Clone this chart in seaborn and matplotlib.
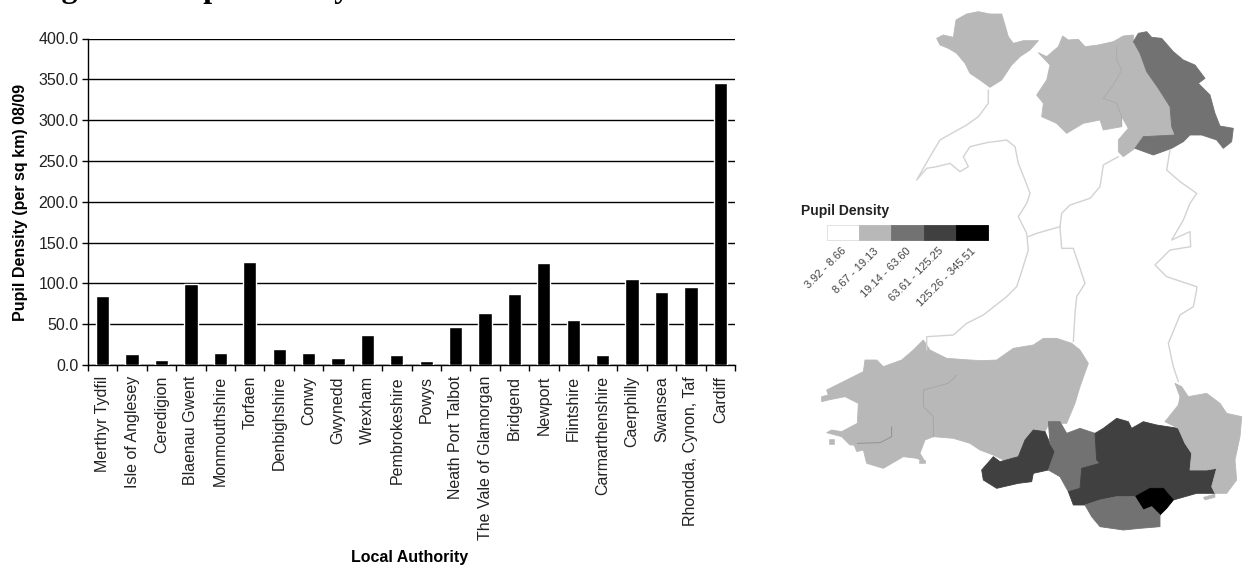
import matplotlib
matplotlib.use("Agg")
import matplotlib.pyplot as plt
import seaborn as sns
import pandas as pd
from matplotlib.patches import Rectangle

authorities = ["Merthyr Tydfil", "Isle of Anglesey", "Ceredigion", "Blaenau Gwent", "Monmouthshire",
               "Torfaen", "Denbighshire", "Conwy", "Gwynedd", "Wrexham", "Pembrokeshire", "Powys",
               "Neath Port Talbot", "The Vale of Glamorgan", "Bridgend", "Newport", "Flintshire",
               "Carmarthenshire", "Caerphilly", "Swansea", "Rhondda, Cynon, Taf", "Cardiff"]
density = [85, 13, 6, 99, 15, 126, 20, 15, 8, 37, 12, 4.5, 47, 64, 87, 125, 55, 12, 105, 90, 96, 345.5]
y_ticks = [0, 50, 100, 150, 200, 250, 300, 350, 400]

legend_labels = ["3.92 - 8.66", "8.67 - 19.13", "19.14 - 63.60", "63.61 - 125.25", "125.26 - 345.51"]
legend_colors = ["#ffffff", "#b8b8b8", "#727272", "#404040", "#000000"]

# Map outlines (map units: 3 per reference pixel)
S = 840
def south(pts):
    return [(x, y + S) for x, y in pts]

anglesey = [(500,115),(520,105),(550,112),(558,60),(590,42),(625,35),(660,42),(695,42),(705,75),(715,110),(730,130),(760,122),(805,122),(780,150),(750,170),(725,195),(695,240),(660,262),(630,240),(600,220),(585,190),(560,160),(535,145),(510,135)]
conwy = [(805,158),(830,170),(865,140),(878,108),(895,120),(925,118),(945,140),(985,135),(1030,125),(1040,140),(1040,180),(1055,210),(1030,255),(1000,295),(1040,310),(1055,350),(1055,380),(1000,390),(990,360),(940,370),(890,400),(860,370),(815,350),(820,310),(800,285),(830,240),(840,195)]
denbighshire = [(1030,125),(1060,108),(1090,105),(1090,130),(1110,160),(1130,215),(1165,265),(1200,320),(1205,380),(1215,405),(1120,410),(1095,445),(1060,470),(1045,455),(1045,420),(1075,385),(1055,350),(1040,310),(1000,295),(1030,255),(1055,210),(1040,180),(1040,140)]
flintshire = [(1090,125),(1105,100),(1130,95),(1145,112),(1175,115),(1210,155),(1240,180),(1275,195),(1305,235),(1285,250),(1320,285),(1335,340),(1350,378),(1390,385),(1385,425),(1360,445),(1340,420),(1295,405),(1260,405),(1240,425),(1215,405),(1205,380),(1200,320),(1165,265),(1130,215),(1110,160)]
wrexham = [(1120,410),(1215,405),(1240,425),(1205,445),(1150,465),(1095,445)]
pembrokeshire = south([(170,330),(230,300),(280,275),(285,240),(320,240),(340,260),(395,240),(430,210),(460,180),(480,210),(530,235),(560,285),(535,310),(460,330),(460,380),(490,410),(490,470),(465,480),(450,520),(465,545),(440,535),(400,530),(340,565),(290,550),(280,510),(250,495),(240,495),(215,470),(170,458),(185,450),(215,455),(262,430),(265,370),(225,350),(175,360),(155,365),(155,350),(175,345)])
carmarthenshire = south([(530,235),(600,240),(640,242),(680,240),(730,205),(790,195),(820,175),(860,175),(905,190),(930,210),(955,250),(930,320),(915,370),(890,430),(880,430),(840,425),(825,455),(790,450),(765,480),(745,530),(700,540),(670,525),(630,510),(600,490),(550,475),(490,470),(490,410),(460,380),(460,330),(535,310),(560,285)])
swansea = south([(790,450),(825,455),(840,490),(855,515),(835,570),(790,580),(785,605),(745,610),(680,625),(640,600),(635,570),(670,530),(690,545),(745,530),(765,480)])
neath = south([(835,425),(870,425),(890,460),(930,445),(975,460),(980,540),(990,550),(935,565),(930,625),(895,635),(870,590),(835,570),(855,515),(840,490)])
valleys = south([(975,460),(1000,445),(1040,415),(1075,425),(1085,445),(1120,425),(1160,435),(1225,445),(1245,490),(1265,520),(1260,570),(1310,570),(1340,565),(1325,620),(1335,640),(1280,640),(1210,660),(1180,625),(1140,625),(1095,650),(1040,650),(990,660),(945,675),(910,675),(895,635),(930,625),(935,565),(990,550),(980,540)])
cardiff = south([(1095,650),(1140,625),(1180,625),(1210,660),(1190,685),(1170,705),(1145,680),(1120,690)])
vale = south([(945,675),(990,660),(1040,650),(1095,650),(1120,690),(1145,680),(1170,705),(1170,740),(1110,745),(1060,750),(990,740),(965,710)])
monmouthshire = south([(1215,310),(1235,320),(1255,350),(1310,340),(1350,370),(1370,400),(1415,410),(1410,470),(1395,540),(1400,600),(1370,640),(1335,640),(1325,620),(1340,565),(1310,570),(1260,570),(1265,520),(1245,490),(1225,445),(1185,425),(1225,375),(1230,350)])
islands = [south([(178,478),(192,478),(192,492),(178,492)]),
           south([(252,495),(275,492),(282,510),(260,515)]),
           south([(448,540),(466,540),(466,550),(448,550)]),
           south([(1300,652),(1335,642),(1335,652),(1305,660)])]

regions = [(anglesey, 1), (conwy, 1), (denbighshire, 1), (flintshire, 2), (wrexham, 2),
           (pembrokeshire, 1), (carmarthenshire, 1), (swansea, 3), (neath, 2), (valleys, 3),
           (cardiff, 4), (vale, 2), (monmouthshire, 1)]

west_coast = [(655,270),(655,310),(625,350),(590,375),(545,400),(510,420),(480,470),(460,505),(440,540),(470,505),(500,500),(540,490),(570,515),(595,500),(580,470),(600,440),(650,428),(710,420),(735,440),(745,490),(765,540),(780,580),(770,610),(745,650),(770,700),(775,750),(750,830),(740,860)] + south([(710,50),(640,105),(590,130),(550,165),(470,170),(470,210)])
north_border = [(1045,470),(1000,495),(990,560),(960,595),(900,615),(875,640),(870,680),(800,700),(775,710)]
mid_border = [(870,680),(875,745),(910,745),(925,790),(945,850)] + south([(920,50),(915,100),(910,185)])
east_border = [(1200,450),(1190,510),(1230,545),(1280,580),(1260,610),(1240,660),(1205,720),(1260,695),(1262,740),(1200,750),(1155,795),(1190,830),(1280,860)] + south([(1280,30),(1270,80),(1230,105),(1195,190),(1210,260),(1225,305)])
borders = [west_coast, north_border, mid_border, east_border]

conwy_edge = [(1040,140),(1040,180),(1055,210),(1030,255),(1000,295),(1040,310),(1055,350),(1055,380)]
carm_edge = south([(560,285),(535,310),(460,330),(460,380),(490,410),(490,470)])
haven = south([(262,490),(330,488),(365,470),(365,440)])

sns.set_theme(style="white")
plt.rcParams["font.family"] = ["Liberation Sans", "DejaVu Sans"]

W, H = 1246, 566
fig = plt.figure(figsize=(W / 100, H / 100), dpi=100)
ax = fig.add_axes([88 / W, 1 - 365 / H, 647 / W, 326.5 / H])

df = pd.DataFrame({"authority": authorities, "density": density})
sns.barplot(data=df, x="authority", y="density", color="black", saturation=1,
            width=0.45, ax=ax, zorder=3)
ax.set_xlim(-0.5, len(authorities) - 0.5)
ax.set_ylim(0, 400)
ax.set_yticks(y_ticks)
ax.set_yticklabels([f"{v:.1f}" for v in y_ticks], fontsize=11.5, color="#222222")
ax.set_xticks(range(len(authorities)))
ax.set_xticklabels(authorities, rotation=90, fontsize=11.5, color="#222222", va="top", ha="center")
ax.set_xticks([i - 0.5 for i in range(len(authorities) + 1)], minor=True)
ax.tick_params(axis="x", which="major", length=0, pad=8)
ax.tick_params(axis="x", which="minor", length=4, width=1, color="black", bottom=True)
ax.tick_params(axis="y", which="major", length=4, width=1, color="black", left=True, pad=3)
ax.grid(False)
ax.yaxis.grid(True, color="black", linewidth=1)
ax.set_axisbelow(True)
for side in ("top", "right"):
    ax.spines[side].set_visible(False)
for side in ("left", "bottom"):
    ax.spines[side].set_color("black")
    ax.spines[side].set_linewidth(1)
ax.set_xlabel("Local Authority", fontsize=11.5, fontweight="bold", va="center", color="black")
ax.xaxis.set_label_coords(0.497, -0.59)
ax.set_ylabel("Pupil Density (per sq km) 08/09", fontsize=11.5, fontweight="bold", va="center", color="black")
ax.yaxis.set_label_coords(-0.105, 0.497)

fig.text(33 / W, 1 + 2.5 / H, "Figure 5: Pupil Density", family="Liberation Serif",
         fontweight="bold", fontsize=23, color="black", va="baseline", ha="left")

# Map panel
m = fig.add_axes([770 / W, 0, (W - 770) / W, 1])
m.set_xlim(0, (W - 770) * 3)
m.set_ylim(H * 3, 0)
m.axis("off")
for line in borders:
    m.plot(*zip(*line), color="#d2d2d2", lw=1, solid_joinstyle="round")
for outline, shade in regions:
    xs, ys = zip(*outline)
    m.fill(xs, ys, facecolor=legend_colors[shade], edgecolor=legend_colors[shade], lw=0.6, joinstyle="round")
for outline in islands:
    xs, ys = zip(*outline)
    m.fill(xs, ys, facecolor=legend_colors[1], edgecolor=legend_colors[1], lw=0.4)
m.plot(*zip(*conwy_edge), color="#aaaaaa", lw=0.6)
m.plot(*zip(*carm_edge), color="#a4a4a4", lw=0.6)
m.plot(*zip(*haven), color="#8c8c8c", lw=0.6)

# Map legend
for i, (lab, col) in enumerate(zip(legend_labels, legend_colors)):
    m.add_patch(Rectangle((170 + i * 97, 675), 97, 45, facecolor=col,
                          edgecolor="#dddddd" if i == 0 else col, lw=0.6))
    m.text(225 + i * 97, 748, lab, rotation=45, rotation_mode="anchor", ha="right", va="center",
           fontsize=8, color="#444444")
m.text(92, 633, "Pupil Density", fontsize=10, fontweight="bold", color="#222222", ha="left", va="center")

fig.savefig("out.png", dpi=100, facecolor="white")
